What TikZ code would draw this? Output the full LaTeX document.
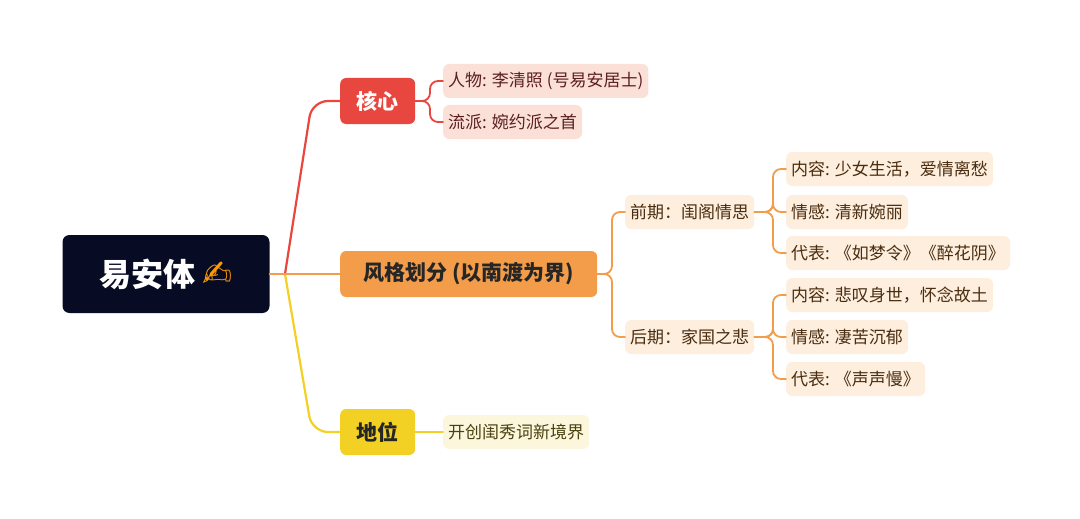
\documentclass[tikz,border=0pt]{standalone}
\usepackage{fontspec}
\setmainfont{Noto Sans CJK SC}
\newfontfamily\symfont{DejaVu Sans}
\usetikzlibrary{positioning}
\definecolor{rootcolor}{RGB}{7,11,36}
\definecolor{redcolor}{RGB}{232,71,63}
\definecolor{orangecolor}{RGB}{243,156,74}
\definecolor{yellowcolor}{RGB}{242,208,36}
\definecolor{redleaf}{RGB}{251,224,216}
\definecolor{orangeleaf}{RGB}{253,238,222}
\definecolor{yellowleaf}{RGB}{252,246,220}
\definecolor{redtext}{RGB}{92,31,31}
\definecolor{orangetext}{RGB}{74,45,16}
\definecolor{yellowtext}{RGB}{74,66,16}

\begin{document}
\begin{tikzpicture}[x=1pt,y=-1pt,
    line cap=round,
    ]
\tikzset{
  base/.style={rounded corners=6pt, align=center, inner xsep=6pt},
  root/.style={base, fill=rootcolor, text=white, minimum width=207, minimum height=78,
    font=\fontsize{32}{36}\selectfont\bfseries, rounded corners=7pt},
  branch/.style={base, anchor=west, minimum height=46, font=\fontsize{21}{25}\selectfont\bfseries},
  leaf/.style={base, anchor=west, minimum height=34, font=\fontsize{17}{20}\selectfont, inner xsep=5pt},
  main/.style={line width=2.2pt, rounded corners=16pt},
  sub/.style={line width=1.8pt, rounded corners=8pt},
}
\useasboundingbox (0,0) rectangle (1080,519);

\node [root] (r) at (166,274) {易安体 {\symfont\fontsize{36}{36}\selectfont\textcolor{orange!80!yellow}{✍}}};

\node [branch, fill=redcolor, text=white, minimum width=75] (b1) at (340,101) {核心};
\node [branch, fill=orangecolor, text=black!85, minimum width=257] (b2) at (340,274) {风格划分 (以南渡为界)};
\node [branch, fill=yellowcolor, text=black!85, minimum width=75] (b3) at (340,432) {地位};

\node [leaf, fill=redleaf, text=redtext] (l1) at (443,81) {人物: 李清照 (号易安居士)};
\node [leaf, fill=redleaf, text=redtext] (l2) at (443,122) {流派: 婉约派之首};

\node [leaf, fill=orangeleaf, text=orangetext] (s1) at (625,212) {前期：闺阁情思};
\node [leaf, fill=orangeleaf, text=orangetext] (s2) at (625,337) {后期：家国之悲};

\node [leaf, fill=orangeleaf, text=orangetext] (s11) at (786,169) {内容: 少女生活，爱情离愁};
\node [leaf, fill=orangeleaf, text=orangetext] (s12) at (786,212) {情感: 清新婉丽};
\node [leaf, fill=orangeleaf, text=orangetext] (s13) at (786,253) {代表: 《如梦令》《醉花阴》};
\node [leaf, fill=orangeleaf, text=orangetext] (s21) at (786,295) {内容: 悲叹身世，怀念故土};
\node [leaf, fill=orangeleaf, text=orangetext] (s22) at (786,337) {情感: 凄苦沉郁};
\node [leaf, fill=orangeleaf, text=orangetext] (s23) at (786,379) {代表: 《声声慢》};

\node [leaf, fill=yellowleaf, text=yellowtext] (l3) at (443,432) {开创闺秀词新境界};

\coordinate (hub) at (285,274);

% main branches
\draw [main, redcolor] (hub) -- (312,101) -- (b1.west);
\draw [main, yellowcolor] (hub) -- (312,432) -- (b3.west);
\draw [main, orangecolor, rounded corners=0pt] (r.east) -- (hub) -- (b2.west);

% leaves
\draw [sub, redcolor] (b1.east) -- (430,101) |- (l1.west);
\draw [sub, redcolor] (b1.east) -- (430,101) |- (l2.west);
\draw [sub, yellowcolor] (b3.east) -- (l3.west);

\draw [sub, orangecolor] (b2.east) -- (612,274) |- (s1.west);
\draw [sub, orangecolor] (b2.east) -- (612,274) |- (s2.west);

\foreach \i in {1,2,3} {
  \draw [sub, orangecolor] (s1.east) -- (773,212) |- (s1\i.west);
  \draw [sub, orangecolor] (s2.east) -- (773,337) |- (s2\i.west);
}

\end{tikzpicture}
\end{document}
